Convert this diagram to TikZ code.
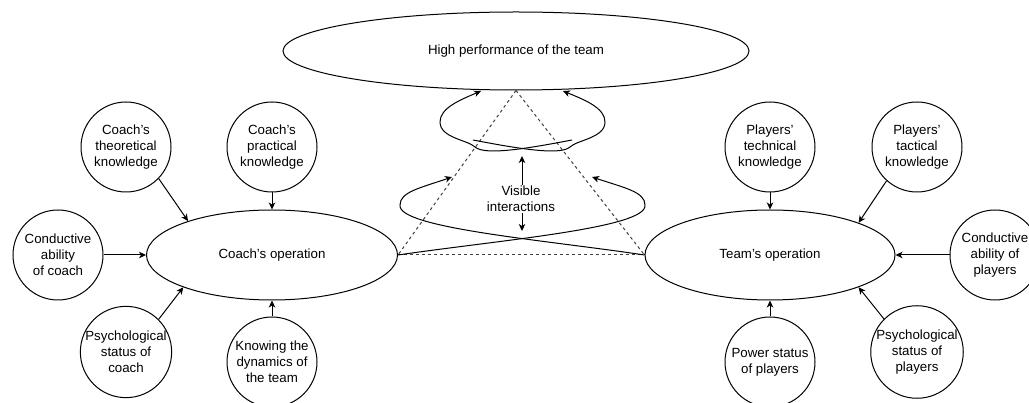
\documentclass[tikz,border=0pt]{standalone}
\usepackage{fontspec}
\setmainfont{Liberation Sans}
\usetikzlibrary{shapes.geometric,arrows.meta}
\begin{document}
\begin{tikzpicture}[x=1pt,y=-1pt,
  every node/.style={font=\fontsize{13.3}{16}\selectfont, align=center},
  circ/.style={draw, circle, line width=1pt, minimum size=90pt, inner sep=0pt},
  ell/.style={draw, ellipse, line width=1pt, inner sep=0pt},
  arr/.style={line width=1pt, -{Stealth[length=7pt,width=6.5pt,inset=2pt]}},
  dline/.style={line width=1pt, black!75, dash pattern=on 3pt off 3pt}]
\useasboundingbox (0,0) rectangle (1029,403);
% main ellipses
\node[ell, minimum width=466pt, minimum height=78pt] (top) at (516,51) {High performance of the team};
\node[ell, minimum width=251pt, minimum height=90pt] (coachop) at (272,255) {Coach's operation};
\node[ell, minimum width=250pt, minimum height=90pt] (teamop) at (770,255) {Team's operation};
% left circles
\node[circ] (theo) at (126,147) {Coach's\\theoretical\\knowledge};
\node[circ] (prac) at (272,147) {Coach's\\practical\\knowledge};
\node[circ] (condc) at (58,255) {Conductive\\ability\\of coach};
\node[circ] (psyc) at (126,352) {Psychological\\status of\\coach};
\node[circ] (know) at (272,362) {Knowing the\\dynamics of\\the team};
% right circles
\node[circ] (tech) at (770,147) {Players'\\technical\\knowledge};
\node[circ] (tact) at (917,147) {Players'\\tactical\\knowledge};
\node[circ] (condp) at (995,255) {Conductive\\ability of\\players};
\node[circ] (psyp) at (917,352) {Psychological\\status of\\players};
\node[circ] (power) at (770,362) {Power status\\of players};
% arrows into coach's operation
\draw[arr] (theo.-44) -- (coachop.158);
\draw[arr] (prac) -- (coachop);
\draw[arr] (condc) -- (coachop);
\draw[arr] (psyc.45) -- (coachop.200);
\draw[arr] (know) -- (coachop);
% arrows into team's operation
\draw[arr] (tech) -- (teamop);
\draw[arr] (tact.228) -- (teamop.20);
\draw[arr] (condp) -- (teamop);
\draw[arr] (psyp.135) -- (teamop.-20);
\draw[arr] (power) -- (teamop);
% dashed triangle
\draw[dline] (top.south) -- (coachop.east);
\draw[dline] (top.south) -- (teamop.west);
\draw[dline] (coachop.east) -- (teamop.west);
% lower loops
\coordinate (l1end) at (592,177);
\coordinate (l2end) at (452,177);
\draw[arr] (coachop.east) .. controls (500,240) and (648,228) .. (645,205)
  .. controls (645,192) and (625,188) .. (l1end);
\draw[arr] (teamop.west) .. controls (545,240) and (397,228) .. (400,205)
  .. controls (400,192) and (420,188) .. (l2end);
% upper loops
\coordinate (uA) at (572,140);
\coordinate (uAend) at (481,91);
\coordinate (uB) at (473,140);
\coordinate (uBend) at (563,91);
\draw[arr] (uA) .. controls (530,148) and (485,156) .. (475,147)
  .. controls (468,140) and (440,138) .. (440,122)
  .. controls (440,108) and (460,100) .. (uAend);
\draw[arr] (uB) .. controls (515,148) and (560,156) .. (570,147)
  .. controls (577,140) and (605,138) .. (605,122)
  .. controls (605,108) and (585,100) .. (uBend);
% visible interactions
\coordinate (vt) at (522,156);
\coordinate (vb) at (522,231);
\draw[line width=1pt, {Stealth[length=7pt,width=6.5pt,inset=2pt]}-{Stealth[length=7pt,width=6.5pt,inset=2pt]}] (vt) -- (vb);
\node[fill=white, inner sep=1pt] (vis) at (521,199) {Visible\\interactions};
\end{tikzpicture}
\end{document}
